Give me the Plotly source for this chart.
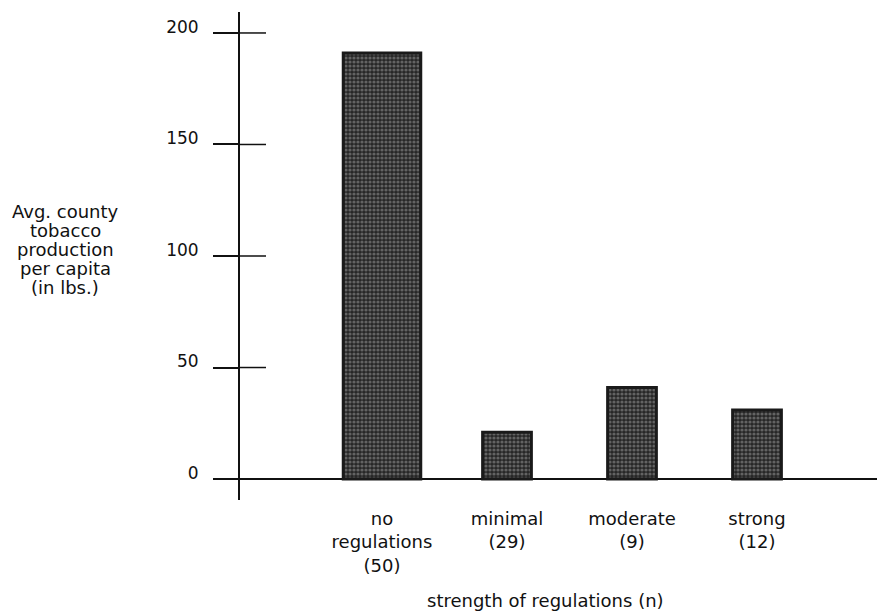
import plotly.graph_objects as go

categories = ["no<br>regulations<br>(50)", "minimal<br>(29)", "moderate<br>(9)", "strong<br>(12)"]
values = [191, 21, 41, 31]
bar_widths = [0.62, 0.39, 0.39, 0.39]
y_ticks = [0, 50, 100, 150, 200]
y_title_lines = ["Avg. county", "tobacco", "production", "per capita", "(in lbs.)"]
x_title = "strength of regulations (n)"

FONT = "DejaVu Sans"
INK = "#111111"

fig = go.Figure()
fig.add_trace(go.Bar(
    x=categories, y=values, width=bar_widths,
    marker=dict(
        color="#2a2a2a",
        line=dict(color="#1a1a1a", width=3),
        pattern=dict(shape=".", fgcolor="#a0a0a0", bgcolor="#262626", size=4, solidity=0.5),
    ),
    showlegend=False, hoverinfo="skip",
))

yrange = [-9.4, 209.4]
annotations = []
for i, line in enumerate(y_title_lines):
    annotations.append(dict(
        text=line, xref="paper", yref="paper", x=-0.2747, y=0.514,
        yshift=(2 - i) * 19, xanchor="center", yanchor="middle", showarrow=False,
        font=dict(size=18, family=FONT, color=INK)))
annotations.append(dict(
    text=x_title, xref="paper", yref="paper", x=0.480, y=-0.205,
    xanchor="center", yanchor="middle", showarrow=False,
    font=dict(size=18, family=FONT, color=INK)))

# inner halves of the y-axis tick marks (the ticks cross the axis line)
shapes = [dict(type="line", xref="paper", yref="y", x0=0, x1=26 / 637, y0=t, y1=t,
               line=dict(color=INK, width=1.5)) for t in y_ticks]

fig.update_layout(
    width=877, height=615,
    margin=dict(l=240, r=0, t=12, b=115),
    paper_bgcolor="white", plot_bgcolor="white",
    font=dict(family=FONT, color=INK, size=17),
    xaxis=dict(
        range=[-1.136, 3.96], showgrid=False, zeroline=False, showline=False,
        ticks="", tickfont=dict(size=18), ticklabelstandoff=6,
    ),
    yaxis=dict(
        range=yrange, tickvals=y_ticks, showgrid=False,
        zeroline=True, zerolinecolor=INK, zerolinewidth=2,
        showline=True, linecolor=INK, linewidth=2,
        ticks="outside", ticklen=25, tickwidth=1.5, tickcolor=INK,
        ticklabelstandoff=11, ticklabelshift=-6,
        tickfont=dict(size=17),
    ),
    shapes=shapes,
    annotations=annotations,
)

fig.write_html("out.html", config={"displayModeBar": False},
               post_script="document.body.style.margin='0';document.body.style.overflow='hidden';")
